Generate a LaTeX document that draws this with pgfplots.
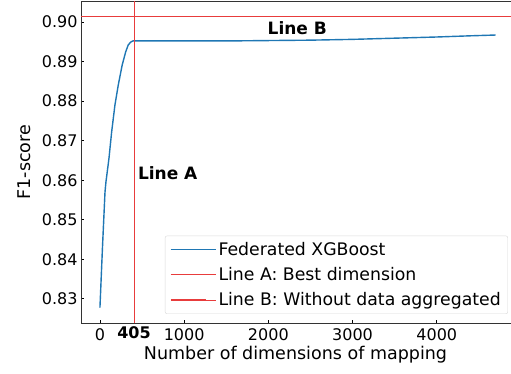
\documentclass[border=0pt]{standalone}
\usepackage{pgfplots}
\pgfplotsset{compat=1.18}
\usepackage{fontspec}
\setmainfont{DejaVu Sans}
\definecolor{mblue}{RGB}{31,119,180}
\definecolor{mred}{RGB}{232,60,60}
\begin{document}
\begin{tikzpicture}
\useasboundingbox (0,0) rectangle (511pt,373pt);
\begin{axis}[
  at={(81pt,50pt)}, anchor=south west,
  scale only axis, width=435pt, height=322pt,
  xmin=-225, xmax=4941, ymin=0.8239, ymax=0.9053,
  xtick={0,1000,2000,3000,4000},
  extra x ticks={405},
  extra x tick style={tick style={draw=none}, ticklabel style={font=\fontsize{16}{18}\selectfont\bfseries, yshift=2pt}},
  ytick={0.83,0.84,0.85,0.86,0.87,0.88,0.89,0.90},
  yticklabel style={/pgf/number format/fixed, /pgf/number format/fixed zerofill, /pgf/number format/precision=2},
  xticklabel style={/pgf/number format/1000 sep={}, yshift=-2pt},
  /pgf/number format/assume math mode=true,
  scaled y ticks=false,
  tick pos=left, tick align=inside,
  major tick length=3.5pt,
  tick style={black, line width=0.8pt},
  ticklabel style={font=\fontsize{16}{18}\selectfont},
  axis line style={black!80, line width=0.8pt},
  xlabel={Number of dimensions of mapping},
  ylabel={F1-score},
  label style={font=\fontsize{17.5}{20}\selectfont},
  xlabel style={yshift=1pt, xshift=-3pt},
  ylabel style={yshift=4pt},
  legend style={at={(0.9816,0.028)}, anchor=south east, font=\fontsize{17.3}{19}\selectfont,
    draw=black!15, rounded corners=2pt, row sep=6.5pt, inner xsep=5pt, inner ysep=4.5pt},
  legend cell align=left,
  legend image code/.code={\path (0pt,0pt) -- (45pt,0pt); \draw[line width=1.3pt,#1] (0pt,0pt) -- (35pt,0pt);},
]
\addplot[mblue, line width=1.4pt, line join=round] coordinates {
(0,0.8278) (30,0.8430) (60,0.8570) (71,0.8595) (107,0.8655) (139,0.8722) (178,0.8790) (217,0.8840) (264,0.8891) (305,0.8924) (336,0.8942) (365,0.8949) (390,0.8952) (405,0.8952)
(1000,0.8952) (1500,0.8952) (2000,0.8953) (2500,0.8954) (3000,0.8956) (3500,0.8959) (4000,0.8962) (4400,0.8965) (4700,0.8967)
};
\addlegendentry{Federated XGBoost}
\addplot[mred, line width=0.9pt] coordinates {(405,0.8239) (405,0.9053)};
\addlegendentry{Line A: Best dimension}
\addplot[mred, line width=0.9pt] coordinates {(-225,0.9015) (4941,0.9015)};
\addlegendentry{Line B: Without data aggregated}
\node[anchor=west, font=\fontsize{17}{20}\selectfont\bfseries, inner sep=0pt] at (axis cs:450,0.8618) {Line A};
\node[anchor=west, font=\fontsize{17}{20}\selectfont\bfseries, inner sep=0pt] at (axis cs:1990,0.8985) {Line B};
\end{axis}
\end{tikzpicture}
\end{document}
